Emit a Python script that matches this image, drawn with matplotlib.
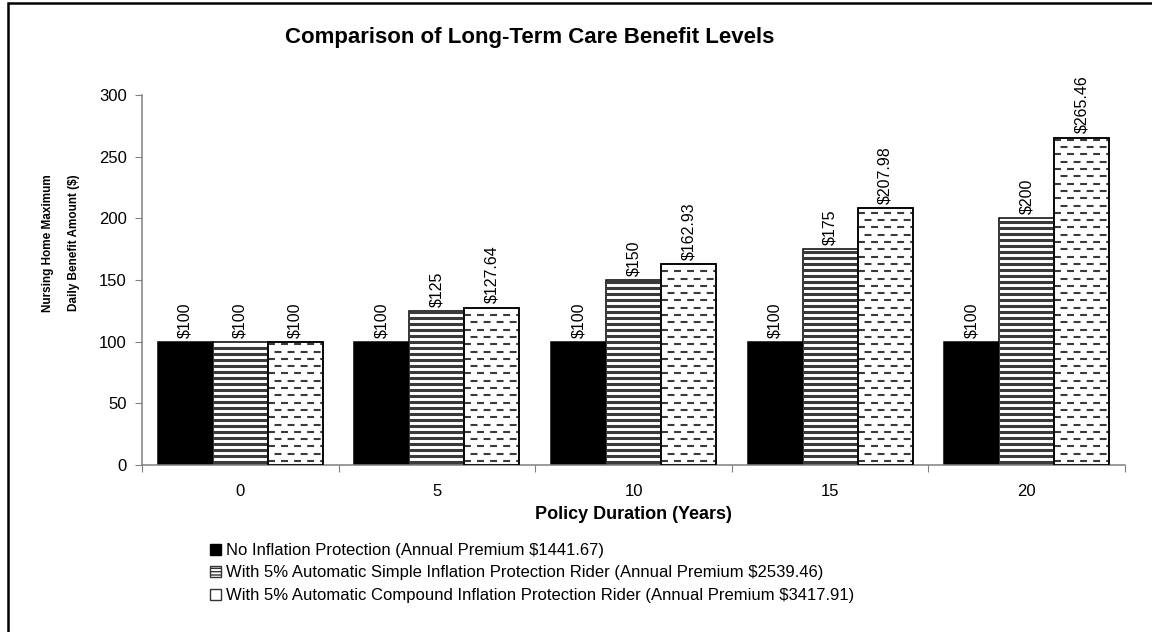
import matplotlib
matplotlib.use("Agg")
import matplotlib.pyplot as plt
from matplotlib.patches import Patch, Rectangle
import numpy as np

plt.rcParams['font.family'] = ['Liberation Sans', 'DejaVu Sans']
plt.rcParams['lines.scale_dashes'] = False

# data
durations = ['0', '5', '10', '15', '20']
no_inflation = [100, 100, 100, 100, 100]
simple_rider = [100, 125, 150, 175, 200]
compound_rider = [100, 127.64, 162.93, 207.98, 265.46]
series_names = [
    'No Inflation Protection (Annual Premium $1441.67)',
    'With 5% Automatic Simple Inflation Protection Rider (Annual Premium $2539.46)',
    'With 5% Automatic Compound Inflation Protection Rider (Annual Premium $3417.91)',
]
y_ticks = [0, 50, 100, 150, 200, 250, 300]

W, H = 1152, 632
fig = plt.figure(figsize=(W / 100, H / 100), dpi=100)
ax = fig.add_axes([142 / W, 1 - 465 / H, (1125 - 142) / W, 370 / H])

x = np.arange(len(durations))
bw = 0.28
b1 = ax.bar(x - bw, no_inflation, bw, color='black', edgecolor='black', linewidth=1.1)
b2 = ax.bar(x, simple_rider, bw, color='white', edgecolor='black', linewidth=1.1, zorder=2)
b3 = ax.bar(x + bw, compound_rider, bw, color='white', edgecolor='black', linewidth=1.1, zorder=2)

ax.set_xlim(-0.5, len(durations) - 0.5)
ax.set_ylim(0, 300)

# pixel -> data conversion for the fill patterns
px = 370 / 300.0

# horizontal stripes for the simple rider bars
for rect in b2:
    x0, w, h = rect.get_x(), rect.get_width(), rect.get_height()
    ys = np.arange(3 / px, h - 1 / px, 6 / px)
    lc = ax.hlines(ys, x0, x0 + w, colors='#3a3a3a', linewidth=2.2)
    lc.set_clip_path(rect)
    lc.set_zorder(2.5)

# staggered dashes for the compound rider bars
for rect in b3:
    x0, w, h = rect.get_x(), rect.get_width(), rect.get_height()
    ys = np.arange(4 / px, h - 1 / px, 7.3 / px)
    for k, off in enumerate([0, 4.7]):
        lc = ax.hlines(ys[k::2], x0, x0 + w, colors='#3a3a3a', linewidth=1.5,
                       linestyles=[(off, (5.0, 4.4))])
        lc.set_clip_path(rect)
        lc.set_zorder(2.5)
    # redraw the outline on top
    ax.add_patch(Rectangle((x0, 0), w, h, fill=False, edgecolor='black', linewidth=1.1, zorder=3))

for cont, vals in [(b1, no_inflation), (b2, simple_rider), (b3, compound_rider)]:
    ax.bar_label(cont, labels=[f'${v:g}' for v in vals], rotation=90, padding=3,
                 fontsize=11.5)

for s in ['top', 'right']:
    ax.spines[s].set_visible(False)
for s in ['left', 'bottom']:
    ax.spines[s].set_color('#808080')
    ax.spines[s].set_linewidth(1.1)

ax.set_yticks(y_ticks)
ax.tick_params(axis='y', length=5, color='#808080', labelsize=12, pad=6)
ax.set_xticks(np.arange(len(durations) + 1) - 0.5)
ax.set_xticklabels([])
ax.set_xticks(x, minor=True)
ax.set_xticklabels(durations, minor=True)
ax.tick_params(axis='x', which='major', length=5, color='#808080')
ax.tick_params(axis='x', which='minor', length=0, labelsize=12, pad=14)
ax.set_xlabel('Policy Duration (Years)', fontsize=13, fontweight='bold', labelpad=5)

fig.text(530 / W, 1 - 38 / H, 'Comparison of Long-Term Care Benefit Levels',
         ha='center', va='center', fontsize=16, fontweight='bold')
fig.text(61 / W, 1 - 243 / H, 'Nursing Home Maximum\nDaily Benefit Amount ($)',
         rotation=90, ha='center', va='center', fontsize=8.5, fontweight='bold',
         linespacing=2.5, multialignment='right')

handles = [
    Patch(facecolor='black', edgecolor='black'),
    Patch(facecolor='white', edgecolor='#333333', hatch='-----'),
    Patch(facecolor='white', edgecolor='#333333', hatch='|'),
]
fig.legend(handles, series_names, loc='upper left',
           bbox_to_anchor=(210 / W, 1 - 543 / H), frameon=False, fontsize=12,
           handlelength=0.65, handleheight=0.65, handletextpad=0.3,
           labelspacing=0.45, borderpad=0, borderaxespad=0)

# chart border (cut off on the right and bottom)
fig.add_artist(Rectangle((8 / W, -0.1), 1.2, 1.1 - 3 / H, transform=fig.transFigure,
                         fill=False, edgecolor='black', linewidth=1.8))

fig.savefig('out.png', dpi=100)
